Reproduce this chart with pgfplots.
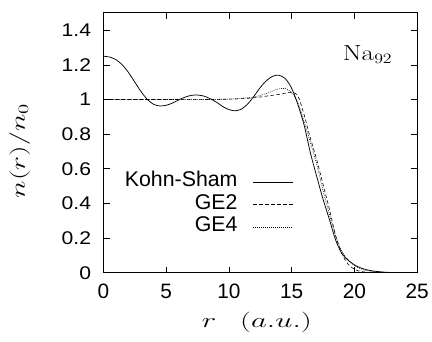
\documentclass[border=0pt]{standalone}
\usepackage{pgfplots}
\pgfplotsset{compat=1.18}
\usepackage{graphicx}
\usepackage{fontspec}
\newfontfamily\sansf{Liberation Sans}
\newfontfamily\sansw[FakeStretch=1.15]{Liberation Sans}
\begin{document}
\begin{tikzpicture}
\begin{axis}[
  scale only axis, width=315bp, height=261bp,
  xmin=0, xmax=25, ymin=0, ymax=1.5,
  xtick={0,5,10,15,20,25},
  ytick={0,0.2,0.4,0.6,0.8,1,1.2,1.4},
  tick align=inside, major tick length=6bp,
  tick style={line width=0.7bp, black},
  axis line style={line width=0.9bp},
  /pgf/number format/assume math mode=true,
  xticklabel style={font=\sansf\fontsize{21}{24}\selectfont, yshift=-8bp},
  yticklabel style={font=\sansw\fontsize{18.5}{22}\selectfont, xshift=-9bp},
  xlabel={\scalebox{1.5}[1]{$r\hspace{16bp}(a.u.)$}},
  xlabel style={font=\fontsize{20}{22}\selectfont, at={(axis description cs:0.489,-0.15)}, anchor=north, inner sep=0pt},
  ylabel={\scalebox{1.45}[1]{$n(r)/n_0$}},
  ylabel style={font=\fontsize{20}{22}\selectfont, at={(axis description cs:-0.267,0.469)}, anchor=center},
  legend plot pos=right,
  legend cell align=right,
  legend image code/.code={\draw[#1] (0bp,0bp) -- (40bp,0bp);},
  legend style={draw=none, fill=none, at={(axis cs:15.4,0.6)}, anchor=north east,
    font=\sansf\fontsize{21.5}{23}\selectfont,
    nodes={inner sep=1.5bp, text height=14.5bp, text depth=5bp},
    /tikz/column sep=14bp},
]
\addplot[black, line width=0.75bp, smooth] coordinates {
(0,1.25) (0.5,1.245) (1,1.23) (1.5,1.2) (2,1.155) (2.5,1.1) (3,1.045) (3.5,1.0)
(4,0.972) (4.5,0.963) (5,0.967) (5.5,0.98) (6,0.998) (6.5,1.014) (7,1.024) (7.5,1.026)
(8,1.02) (8.5,1.005) (9,0.985) (9.5,0.96) (10,0.942) (10.5,0.935) (11,0.945) (11.5,0.975)
(12,1.02) (12.5,1.07) (13,1.11) (13.5,1.135) (14,1.14) (14.5,1.12) (15,1.065) (15.5,0.97)
(16,0.85) (16.5,0.69) (17,0.555) (17.5,0.425) (18,0.31) (18.5,0.19) (19,0.112) (19.5,0.072)
(20,0.046) (20.5,0.028) (21,0.017) (21.5,0.01) (22,0.006) (22.5,0.003) (23,0.0015) (24,0.0004) (25,0)
};
\addlegendentry{Kohn-Sham}
\addplot[black, line width=0.6bp, dash pattern=on 3.5bp off 2.5bp, smooth] coordinates {
(0,1.0) (2,1.0) (4,1.0) (6,1.0) (8,1.0) (10,1.002) (11,1.005) (12,1.01) (13,1.02)
(14,1.03) (14.5,1.037) (15,1.042) (15.5,1.02) (16,0.91) (16.5,0.775) (17,0.652)
(17.5,0.51) (18,0.37) (18.5,0.215) (19,0.11) (19.5,0.05) (20,0.02) (20.5,0.008)
(21,0.003) (22,0.0005) (23,0) (25,0)
};
\addlegendentry{GE2}
\addplot[black, line width=0.6bp, dash pattern=on 0.8bp off 1.2bp, smooth] coordinates {
(0,1.0) (2,1.0) (4,1.0) (6,1.0) (8,1.0) (10,1.003) (11,1.008) (12,1.015) (13,1.035)
(13.5,1.05) (14,1.062) (14.5,1.063) (15,1.04) (15.5,0.98) (16,0.87) (16.5,0.75)
(17,0.625) (17.5,0.475) (18,0.34) (18.5,0.215) (19,0.125) (19.5,0.075) (20,0.042)
(20.5,0.023) (21,0.012) (22,0.004) (23,0.001) (25,0)
};
\addlegendentry{GE4}
\node[anchor=base west, font=\fontsize{22}{24}\selectfont] at (axis cs:18.8,1.225) {\scalebox{1.25}[1]{Na$_{92}$}};
\end{axis}
\path (current axis.south west) ++(-104bp,-69bp);
\path (current axis.north east) ++(13bp,13bp);
\end{tikzpicture}
\end{document}
